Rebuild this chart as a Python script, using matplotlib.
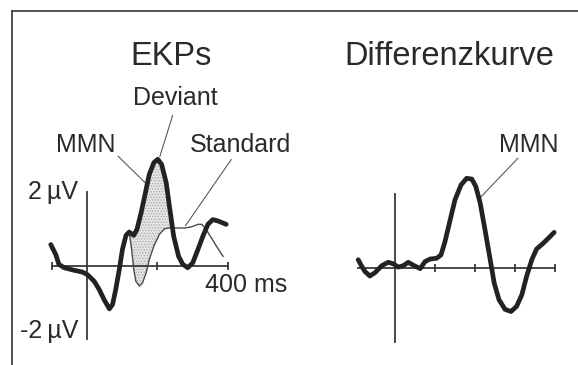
import numpy as np
import matplotlib
matplotlib.use('Agg')
import matplotlib.pyplot as plt
from matplotlib.lines import Line2D

plt.rcParams['font.family'] = ['Liberation Sans', 'DejaVu Sans']
plt.rcParams['hatch.linewidth'] = 0.6

# EKPs (left panel): time in ms, amplitude in microvolt
t_dev = [-102, -88, -79, -64, -36, -12, 2, 21, 35, 49, 64, 73, 82, 92, 101, 111,
         120, 133, 142, 154, 166, 177, 190, 201, 212, 225, 234, 246, 260, 272,
         286, 300, 315, 329, 343, 357, 372, 395]
deviant = [0.57, 0.30, 0.03, -0.06, -0.13, -0.18, -0.25, -0.43, -0.65, -0.93, -1.18,
           -1.06, -0.65, -0.11, 0.44, 0.82, 0.91, 0.82, 0.98, 1.44, 1.98, 2.48, 2.80,
           2.89, 2.75, 2.25, 1.62, 0.80, 0.25, 0.03, -0.06, 0.07, 0.44, 0.80, 1.12,
           1.25, 1.21, 1.12]

t_std = [120, 127, 133, 139, 149, 158, 168, 177, 190, 206, 220, 239, 258, 277, 296,
         315, 326, 338, 353, 367, 386]
standard = [0.91, 0.44, -0.11, -0.43, -0.56, -0.47, -0.20, 0.16, 0.53, 0.85, 1.00,
            1.03, 1.02, 1.02, 1.05, 1.12, 1.12, 0.98, 0.75, 0.53, 0.25]

# Differenzkurve (right panel)
t_diff = [-92, -83, -75, -63, -50, -33, -17, -4, 8, 21, 33, 48, 63, 75, 88, 104, 115,
          125, 138, 150, 165, 179, 192, 202, 213, 225, 238, 248, 260, 275, 290, 304,
          317, 329, 342, 354, 371, 388, 398]
diff = [0.21, 0.03, -0.11, -0.23, -0.14, 0.05, 0.14, 0.10, 0.01, 0.05, 0.14, 0.05,
        -0.03, 0.16, 0.23, 0.25, 0.34, 0.70, 1.29, 1.83, 2.23, 2.41, 2.39, 2.19, 1.74,
        1.02, 0.21, -0.42, -0.87, -1.13, -1.19, -1.05, -0.74, -0.24, 0.21, 0.50, 0.66,
        0.84, 0.95]

ink = '#222222'
axis_col = '#3a3a3a'
txt = '#2a2a2a'

fig = plt.figure(figsize=(5.78, 3.65), dpi=100)

# frame (only left and top edges are visible in the crop)
fx, fy = 12 / 578, 1 - 11 / 365
fig.lines.append(Line2D([fx, fx], [0, fy], transform=fig.transFigure, color='#444444', linewidth=1.3))
fig.lines.append(Line2D([fx, 1], [fy, fy], transform=fig.transFigure, color='#444444', linewidth=1.3))

ax1 = fig.add_axes([51.5 / 578, 1 - 339 / 365, 176.5 / 578, 147 / 365])
ax2 = fig.add_axes([358.2 / 578, 1 - 341.5 / 365, 196.8 / 578, 148 / 365])

for ax in (ax1, ax2):
    ax.set_facecolor('none')
    ax.set_ylim(-2, 2)
    ax.spines['top'].set_visible(False)
    ax.spines['right'].set_visible(False)
    ax.spines['left'].set_position(('data', 0))
    ax.spines['bottom'].set_position(('data', 0))
    for s in ('left', 'bottom'):
        ax.spines[s].set_color(axis_col)
        ax.spines[s].set_linewidth(1.3)
    ax.set_yticks([])
    ax.tick_params(axis='x', direction='inout', length=6, width=1.3, color=axis_col,
                   labelbottom=False)

ax1.set_xlim(-100, 400)
ax1.set_xticks([-100, 200, 400])
ax2.set_xlim(-92, 400)
ax2.set_xticks([100, 200, 300, 400])

# shaded MMN area between deviant and standard
td, dv = np.array(t_dev), np.array(deviant)
ts, sv = np.array(t_std), np.array(standard)
md = (td >= 120) & (td <= 240)
ms = (ts >= 120) & (ts <= 240)
ax1.fill(np.concatenate([td[md], ts[ms][::-1]]), np.concatenate([dv[md], sv[ms][::-1]]),
         facecolor='#e4e4e4', edgecolor='#a8a8a8', hatch='......', linewidth=0,
         clip_on=False, zorder=1)

ax1.plot(t_std, standard, color='#4a4a4a', linewidth=1.0, clip_on=False, zorder=2)
ax1.plot(t_dev, deviant, color=ink, linewidth=3.4, solid_joinstyle='round',
         solid_capstyle='round', clip_on=False, zorder=3)
ax2.plot(t_diff, diff, color=ink, linewidth=3.4, solid_joinstyle='round',
         solid_capstyle='round', clip_on=False, zorder=3)

# titles
fig.text(171.5 / 578, 1 - 65 / 365, 'EKPs', fontsize=23.5, ha='center', va='baseline', color=txt)
fig.text(449 / 578, 1 - 65 / 365, 'Differenzkurve', fontsize=23.5, ha='center', va='baseline', color=txt)

lab = dict(fontsize=18, color=txt, va='baseline')
ax1.text(251, 4.37, 'Deviant', ha='center', **lab)
ax1.text(-3, 3.10, 'MMN', ha='center', **lab)
ax1.text(434, 3.10, 'Standard', ha='center', **lab)
ax1.text(334, -0.72, '400 ms', ha='left', **lab)
ax1.text(-25, 1.81, '2\u2009µV', ha='right', **lab)
ax1.text(-25, -1.98, '-2\u2009µV', ha='right', **lab)
ax2.text(334, 3.12, 'MMN', ha='center', **lab)

# pointer lines
pl = dict(color='#5a5a5a', linewidth=0.8, clip_on=False)
ax1.plot([243, 207], [4.08, 2.97], **pl)
ax1.plot([89, 171], [2.97, 2.20], **pl)
ax1.plot([409, 280], [2.88, 1.09], **pl)
ax2.plot([307, 215], [2.95, 1.91], **pl)

plt.savefig('out.png', dpi=100)
